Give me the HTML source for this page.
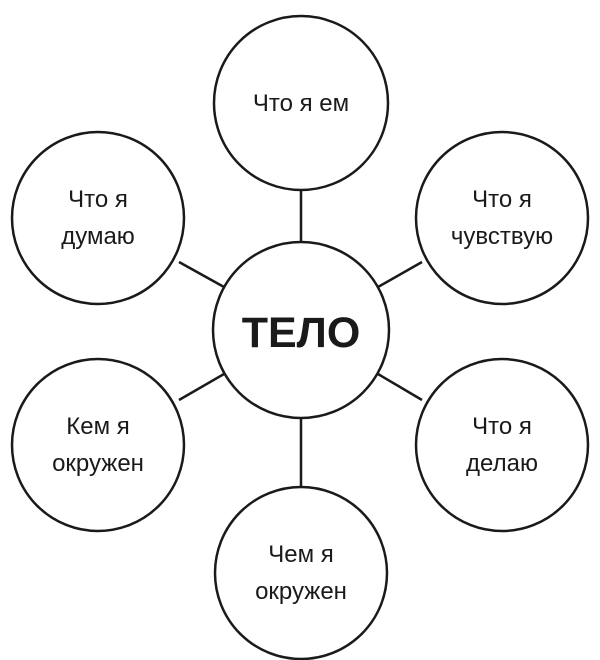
<!DOCTYPE html>
<html><head><meta charset="utf-8"><style>
html,body{margin:0;padding:0;background:#fff;}
svg{display:block}
text{font-family:"Liberation Sans","DejaVu Sans",sans-serif;fill:#1a1a1a;text-anchor:middle;}
</style></head><body>
<svg width="600" height="660" viewBox="0 0 600 660">
<g stroke="#1a1a1a" stroke-width="2.5" fill="none">
<line x1="301" y1="190" x2="301" y2="243"/>
<line x1="301" y1="418" x2="301" y2="486"/>
<line x1="179" y1="262" x2="224" y2="287"/>
<line x1="378" y1="287" x2="422" y2="262"/>
<line x1="179" y1="400" x2="224" y2="374"/>
<line x1="378" y1="374" x2="422" y2="400"/>
<circle cx="301" cy="103" r="87"/>
<circle cx="301" cy="330" r="88"/>
<circle cx="98" cy="218" r="86"/>
<circle cx="502" cy="218" r="86"/>
<circle cx="98" cy="445" r="86"/>
<circle cx="502" cy="445" r="86"/>
<circle cx="301" cy="573" r="86"/>
</g>
<g font-size="24">
<text x="301" y="111">Что я ем</text>
<text x="98" y="207">Что я</text><text x="98" y="244">думаю</text>
<text x="502" y="207">Что я</text><text x="502" y="244">чувствую</text>
<text x="98" y="434">Кем я</text><text x="98" y="471">окружен</text>
<text x="502" y="434">Что я</text><text x="502" y="471">делаю</text>
<text x="301" y="562">Чем я</text><text x="301" y="599">окружен</text>
</g>
<text x="301" y="347" font-size="43" font-weight="bold">ТЕЛО</text>
</svg>
</body></html>
